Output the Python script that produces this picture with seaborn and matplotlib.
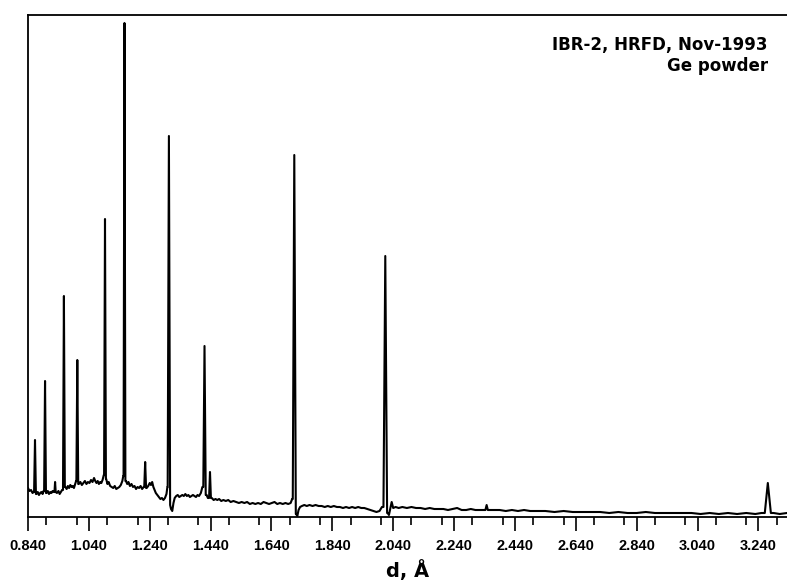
import numpy as np
import pandas as pd
import seaborn as sns
import matplotlib
matplotlib.use("Agg")
from matplotlib import pyplot as plt
from matplotlib.ticker import MultipleLocator, FormatStrFormatter

# background of the diffraction pattern, d in Angstrom, counts in arbitrary units
bg_d = [0.840, 0.845, 0.850, 0.855, 0.858, 0.868, 0.872, 0.876, 0.880, 0.884,
        0.888, 0.891, 0.901, 0.905, 0.909, 0.913, 0.917, 0.921, 0.925, 0.927,
        0.929, 0.931, 0.935, 0.940, 0.944, 0.948, 0.952, 0.963, 0.967, 0.971,
        0.975, 0.979, 0.983, 0.987, 0.991, 0.995, 0.998, 1.007, 1.012, 1.017,
        1.022, 1.027, 1.032, 1.037, 1.042, 1.047, 1.052, 1.057, 1.061, 1.065,
        1.069, 1.073, 1.077, 1.081, 1.085, 1.089, 1.097, 1.101, 1.105, 1.110,
        1.115, 1.120, 1.125, 1.130, 1.135, 1.140, 1.145, 1.150, 1.153, 1.162,
        1.166, 1.170, 1.175, 1.180, 1.185, 1.190, 1.195, 1.200, 1.205, 1.210,
        1.215, 1.220, 1.230, 1.235, 1.240, 1.244, 1.248, 1.252, 1.256, 1.260,
        1.265, 1.270, 1.275, 1.280, 1.285, 1.290, 1.295, 1.298, 1.310, 1.314,
        1.318, 1.322, 1.327, 1.332, 1.337, 1.342, 1.347, 1.352, 1.357, 1.362,
        1.367, 1.372, 1.377, 1.382, 1.387, 1.392, 1.397, 1.402, 1.408, 1.413,
        1.427, 1.431, 1.444, 1.450, 1.456, 1.462, 1.468, 1.475, 1.482, 1.490,
        1.498, 1.506, 1.515, 1.524, 1.533, 1.542, 1.551, 1.560, 1.569, 1.578,
        1.587, 1.596, 1.605, 1.614, 1.623, 1.632, 1.641, 1.650, 1.659, 1.668,
        1.677, 1.686, 1.695, 1.703, 1.708, 1.721, 1.725, 1.729, 1.734, 1.740,
        1.748, 1.756, 1.765, 1.775, 1.785, 1.795, 1.805, 1.815, 1.825, 1.835,
        1.845, 1.855, 1.865, 1.875, 1.885, 1.895, 1.905, 1.915, 1.925, 1.935,
        1.945, 1.955, 1.965, 1.975, 1.985, 1.995, 2.003, 2.022, 2.026, 2.030,
        2.035, 2.040, 2.048, 2.058, 2.070, 2.085, 2.100, 2.115, 2.130, 2.145,
        2.160, 2.175, 2.190, 2.205, 2.220, 2.235, 2.250, 2.265, 2.280, 2.295,
        2.310, 2.325, 2.338, 2.356, 2.370, 2.390, 2.410, 2.430, 2.450, 2.470,
        2.490, 2.510, 2.540, 2.570, 2.600, 2.630, 2.660, 2.690, 2.720, 2.750,
        2.780, 2.810, 2.840, 2.870, 2.900, 2.930, 2.960, 2.990, 3.020, 3.050,
        3.080, 3.110, 3.140, 3.170, 3.200, 3.230, 3.250, 3.290, 3.310, 3.334]
bg_i = [29, 26, 27, 24, 25, 23, 25, 22, 24, 25,
        23, 26, 24, 26, 23, 25, 24, 26, 25, 25,
        35, 25, 24, 26, 23, 25, 27, 30, 28, 31,
        29, 32, 30, 31, 29, 33, 36, 33, 35, 32,
        34, 36, 33, 35, 34, 37, 35, 39, 36, 34,
        36, 33, 35, 34, 37, 42, 38, 33, 35, 31,
        30, 29, 31, 28, 29, 30, 32, 36, 41, 36,
        33, 35, 31, 33, 30, 31, 28, 30, 29, 31,
        28, 30, 29, 31, 34, 32, 35, 30, 27, 24,
        22, 20, 18, 19, 17, 19, 23, 30, 8, 6,
        14, 19, 21, 22, 20, 21, 22, 21, 23, 21,
        22, 20, 21, 22, 21, 20, 22, 21, 24, 30,
        22, 19, 19, 17, 18, 17, 18, 16, 17, 16,
        17, 15, 16, 15, 14, 15, 14, 15, 13, 14,
        13, 14, 13, 15, 14, 13, 14, 15, 13, 14,
        13, 14, 13, 14, 18, 3, 1, 7, 10, 11,
        12, 11, 12, 11, 12, 11, 11, 10, 11, 10,
        11, 10, 10, 9, 10, 9, 10, 9, 10, 9,
        9, 8, 7, 6, 5, 6, 10, 4, 2, 8,
        15, 9, 10, 9, 10, 9, 10, 9, 9, 8,
        9, 8, 8, 8, 7, 8, 9, 7, 7, 8,
        7, 7, 7, 7, 7, 7, 6, 7, 6, 7,
        6, 6, 6, 5, 6, 5, 5, 5, 5, 4,
        5, 4, 4, 5, 4, 4, 4, 4, 4, 3,
        4, 3, 4, 3, 4, 3, 4, 4, 3, 4]

# Bragg peaks: centre, top, half width of the foot, foot levels left / right
peak_d = [0.863, 0.896, 0.958, 1.002, 1.093, 1.157, 1.225, 1.303,
          1.420, 1.438, 1.715, 2.014, 2.347, 3.271]
peak_top = [77, 136, 221, 157, 298, 494, 55, 381,
            171, 45, 362, 261, 12, 34]
peak_w = [0.003, 0.003, 0.003, 0.003, 0.003, 0.003, 0.003, 0.004,
          0.004, 0.003, 0.005, 0.006, 0.004, 0.010]
foot_l = [25, 26, 27, 36, 42, 41, 30, 30, 30, 19, 18, 10, 7, 4]
foot_r = [23, 24, 30, 33, 38, 36, 29, 12, 22, 19, 3, 4, 7, 4]

x_ticks = [0.840, 1.040, 1.240, 1.440, 1.640, 1.840, 2.040, 2.240,
           2.440, 2.640, 2.840, 3.040, 3.240]

# sklad profilu: pozadie bez bodov pod piky + body pikov
bg = pd.DataFrame({"d": bg_d, "I": bg_i})
for c, w in zip(peak_d, peak_w):
    bg = bg[(bg["d"] < c - w) | (bg["d"] > c + w)]
pk_d, pk_i = [], []
for c, t, w, fl, fr in zip(peak_d, peak_top, peak_w, foot_l, foot_r):
    pk_d += [c - w, c, c + w]
    pk_i += [fl, t, fr]
df = pd.concat([bg, pd.DataFrame({"d": pk_d, "I": pk_i})])
df = df.sort_values("d").reset_index(drop=True)

sns.set_style("white")
plt.rcParams["font.family"] = ["Liberation Sans", "DejaVu Sans"]
plt.rcParams["text.color"] = "black"
plt.rcParams["axes.labelcolor"] = "black"
plt.rcParams["xtick.color"] = "black"

fig = plt.figure(figsize=(7.87, 5.85), dpi=100)
ax = fig.add_axes([28 / 787, 68 / 585, 759 / 787, 502 / 585])
sns.lineplot(data=df, x="d", y="I", ax=ax, color="black", linewidth=1.5,
             estimator=None, sort=False)

ax.set_xlim(0.84, 3.334)
ax.set_ylim(0, 502)
ax.set_xticks(x_ticks)
ax.xaxis.set_major_formatter(FormatStrFormatter("%.3f"))
ax.xaxis.set_minor_locator(MultipleLocator(0.1))
ax.set_yticks([])
ax.set_ylabel("")
ax.set_xlabel("d, Å", fontsize=14, fontweight="bold", labelpad=5,
              family=["DejaVu Sans"], color="black")
ax.tick_params(axis="x", which="major", direction="out", length=10,
               width=1.2, labelsize=10.5, pad=6, bottom=True,
               color="black", labelcolor="black")
ax.tick_params(axis="x", which="minor", direction="out", length=6,
               width=1.2, bottom=True, color="black")
for lab in ax.get_xticklabels():
    lab.set_fontweight("bold")
for s in ["left", "top", "bottom"]:
    ax.spines[s].set_color("black")
    ax.spines[s].set_linewidth(1.3)
ax.spines["right"].set_visible(False)

fig.text(768 / 787, 1 - 50 / 585, "IBR-2, HRFD, Nov-1993", ha="right",
         va="baseline", fontsize=12, fontweight="bold",
         family=["DejaVu Sans"], color="black")
fig.text(768 / 787, 1 - 71 / 585, "Ge powder", ha="right",
         va="baseline", fontsize=12, fontweight="bold",
         family=["DejaVu Sans"], color="black")

fig.savefig("out.png", dpi=100)
